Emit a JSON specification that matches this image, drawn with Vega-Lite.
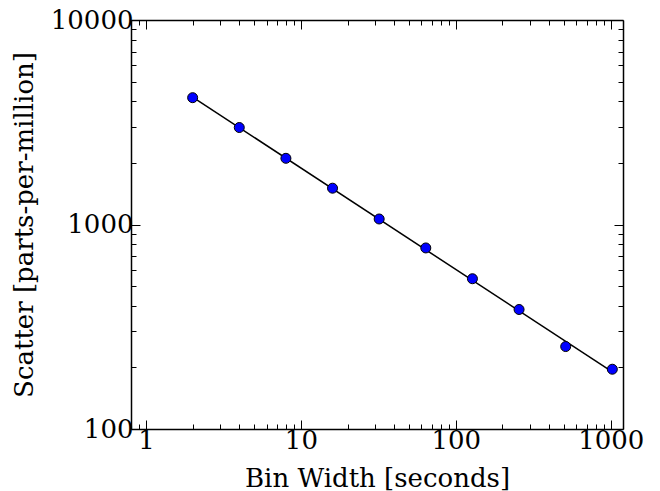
{
  "$schema": "https://vega.github.io/schema/vega-lite/v6.json",
  "width": 492,
  "height": 409,
  "autosize": "none",
  "padding": {"left": 131, "top": 20, "right": 37, "bottom": 62},
  "background": "white",
  "config": {
    "font": "DejaVu Serif",
    "view": {"stroke": null},
    "axis": {
      "grid": false,
      "domainColor": "black",
      "domainWidth": 1.5,
      "tickColor": "black",
      "tickWidth": 1,
      "labelColor": "black",
      "titleColor": "black",
      "labelFont": "DejaVu Serif",
      "titleFont": "DejaVu Serif",
      "labelFontSize": 26,
      "titleFontSize": 26,
      "titleFontWeight": "normal",
      "labelOverlap": false,
      "labelBound": false,
      "labelFlush": false
    }
  },
  "datasets": {
    "pts": [
      {"bin": 2, "scatter": 4170},
      {"bin": 4, "scatter": 2980},
      {"bin": 8, "scatter": 2107},
      {"bin": 16, "scatter": 1505},
      {"bin": 32, "scatter": 1064},
      {"bin": 64, "scatter": 768},
      {"bin": 128, "scatter": 543},
      {"bin": 256, "scatter": 384},
      {"bin": 512, "scatter": 253},
      {"bin": 1024, "scatter": 196}
    ],
    "fit": [
      {"bin": 2, "scatter": 4200},
      {"bin": 1024, "scatter": 190}
    ]
  },
  "resolve": {"axis": {"x": "independent", "y": "independent"}},
  "layer": [
    {
      "data": {"name": "fit"},
      "mark": {"type": "line", "color": "black", "strokeWidth": 1.5},
      "encoding": {
        "x": {
          "field": "bin", "type": "quantitative",
          "scale": {"type": "log", "domain": [0.8, 1200], "nice": false, "zero": false},
          "axis": {
            "orient": "bottom",
            "title": "Bin Width [seconds]",
            "titlePadding": 8,
            "values": [0.8, 0.9, 1, 2, 3, 4, 5, 6, 7, 8, 9, 10, 20, 30, 40, 50, 60, 70, 80, 90, 100, 200, 300, 400, 500, 600, 700, 800, 900, 1000],
            "tickSize": {"condition": {"test": "abs(log(datum.value)/LN10 - round(log(datum.value)/LN10)) < 1e-6", "value": -9}, "value": -5},
            "labelExpr": "abs(log(datum.value)/LN10 - round(log(datum.value)/LN10)) < 1e-6 ? format(datum.value, 'd') : ''",
            "labelPadding": 7
          }
        },
        "y": {
          "field": "scatter", "type": "quantitative",
          "scale": {"type": "log", "domain": [100, 10000], "nice": false, "zero": false},
          "axis": {
            "orient": "left",
            "title": "Scatter [parts-per-million]",
            "titlePadding": 13,
            "values": [100, 200, 300, 400, 500, 600, 700, 800, 900, 1000, 2000, 3000, 4000, 5000, 6000, 7000, 8000, 9000, 10000],
            "tickSize": {"condition": {"test": "abs(log(datum.value)/LN10 - round(log(datum.value)/LN10)) < 1e-6", "value": -9}, "value": -5},
            "labelExpr": "abs(log(datum.value)/LN10 - round(log(datum.value)/LN10)) < 1e-6 ? format(datum.value, 'd') : ''",
            "labelPadding": 7
          }
        }
      }
    },
    {
      "data": {"name": "pts"},
      "mark": {"type": "point", "filled": true, "fill": "#0000ff", "stroke": "black", "strokeWidth": 1, "size": 100, "opacity": 1},
      "encoding": {
        "x": {
          "field": "bin", "type": "quantitative",
          "axis": {
            "orient": "top",
            "title": null,
            "values": [0.8, 0.9, 1, 2, 3, 4, 5, 6, 7, 8, 9, 10, 20, 30, 40, 50, 60, 70, 80, 90, 100, 200, 300, 400, 500, 600, 700, 800, 900, 1000],
            "tickSize": {"condition": {"test": "abs(log(datum.value)/LN10 - round(log(datum.value)/LN10)) < 1e-6", "value": -9}, "value": -5},
            "labels": false
          }
        },
        "y": {
          "field": "scatter", "type": "quantitative",
          "axis": {
            "orient": "right",
            "title": null,
            "values": [100, 200, 300, 400, 500, 600, 700, 800, 900, 1000, 2000, 3000, 4000, 5000, 6000, 7000, 8000, 9000, 10000],
            "tickSize": {"condition": {"test": "abs(log(datum.value)/LN10 - round(log(datum.value)/LN10)) < 1e-6", "value": -9}, "value": -5},
            "labels": false
          }
        }
      }
    }
  ]
}
